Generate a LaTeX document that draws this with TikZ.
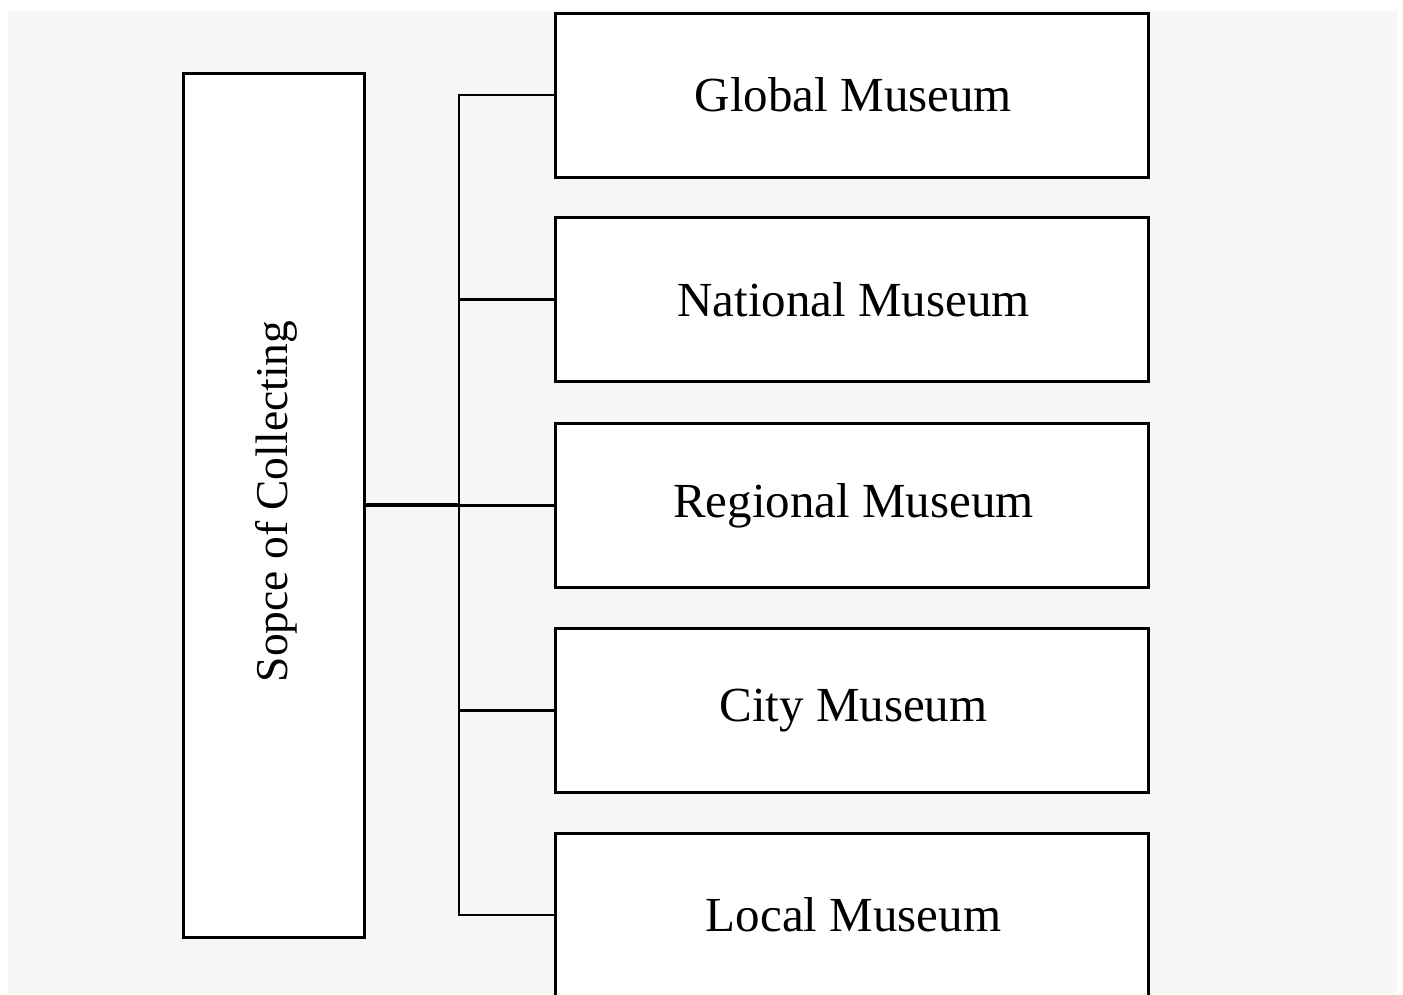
\documentclass[tikz,border=0pt]{standalone}
\usepackage{fontspec}
\setmainfont{Liberation Serif}
\begin{document}
\begin{tikzpicture}[x=1pt,y=-1pt,
  box/.style={draw=black, fill=white, line width=3pt, minimum width=593pt, minimum height=164pt, inner sep=0pt},
  lbl/.style={font=\fontsize{49}{53}\selectfont, inner sep=0pt},
  conn/.style={draw=black, line width=2.6pt}]
\useasboundingbox (0,0) rectangle (1403,994);
\clip (0,0) rectangle (1403,994);
\fill[white] (0,0) rectangle (1403,994);
\fill[fill={rgb,255:red,246;green,246;blue,246}] (8,11) rectangle (1397,994);
\node[box, minimum width=181pt, minimum height=864pt] (sc) at (273.5,505) {};
\node[rotate=90, lbl, font=\fontsize{45.5}{50}\selectfont] (sct) at (276,501.5) {Sopce of Collecting};
\node[box] (g) at (851.5,95) {};
\node[lbl] (gt) at (853.5,95) {Global Museum};
\node[box] (n) at (851.5,299.5) {};
\node[lbl] (nt) at (853.5,299.5) {National Museum};
\node[box] (r) at (851.5,505.5) {};
\node[lbl] (rt) at (853.5,505.5) {Regional Museum};
\node[box] (c) at (851.5,710.5) {};
\node[lbl] (ct) at (853.5,710.5) {City Museum};
\node[box] (l) at (851.5,915) {};
\node[lbl] (lt) at (853.5,915) {Local Museum};
\coordinate (trk) at (459,505);
\draw[conn] (g.west) -| (trk |- l.west) -- (l.west);
\draw[conn] (n.west) -- (n.west -| trk);
\draw[conn] (r.west) -- (r.west -| trk);
\draw[conn] (c.west) -- (c.west -| trk);
\draw[conn, line width=3.5pt] (sc.east) -- (sc.east -| trk);
\end{tikzpicture}
\end{document}
